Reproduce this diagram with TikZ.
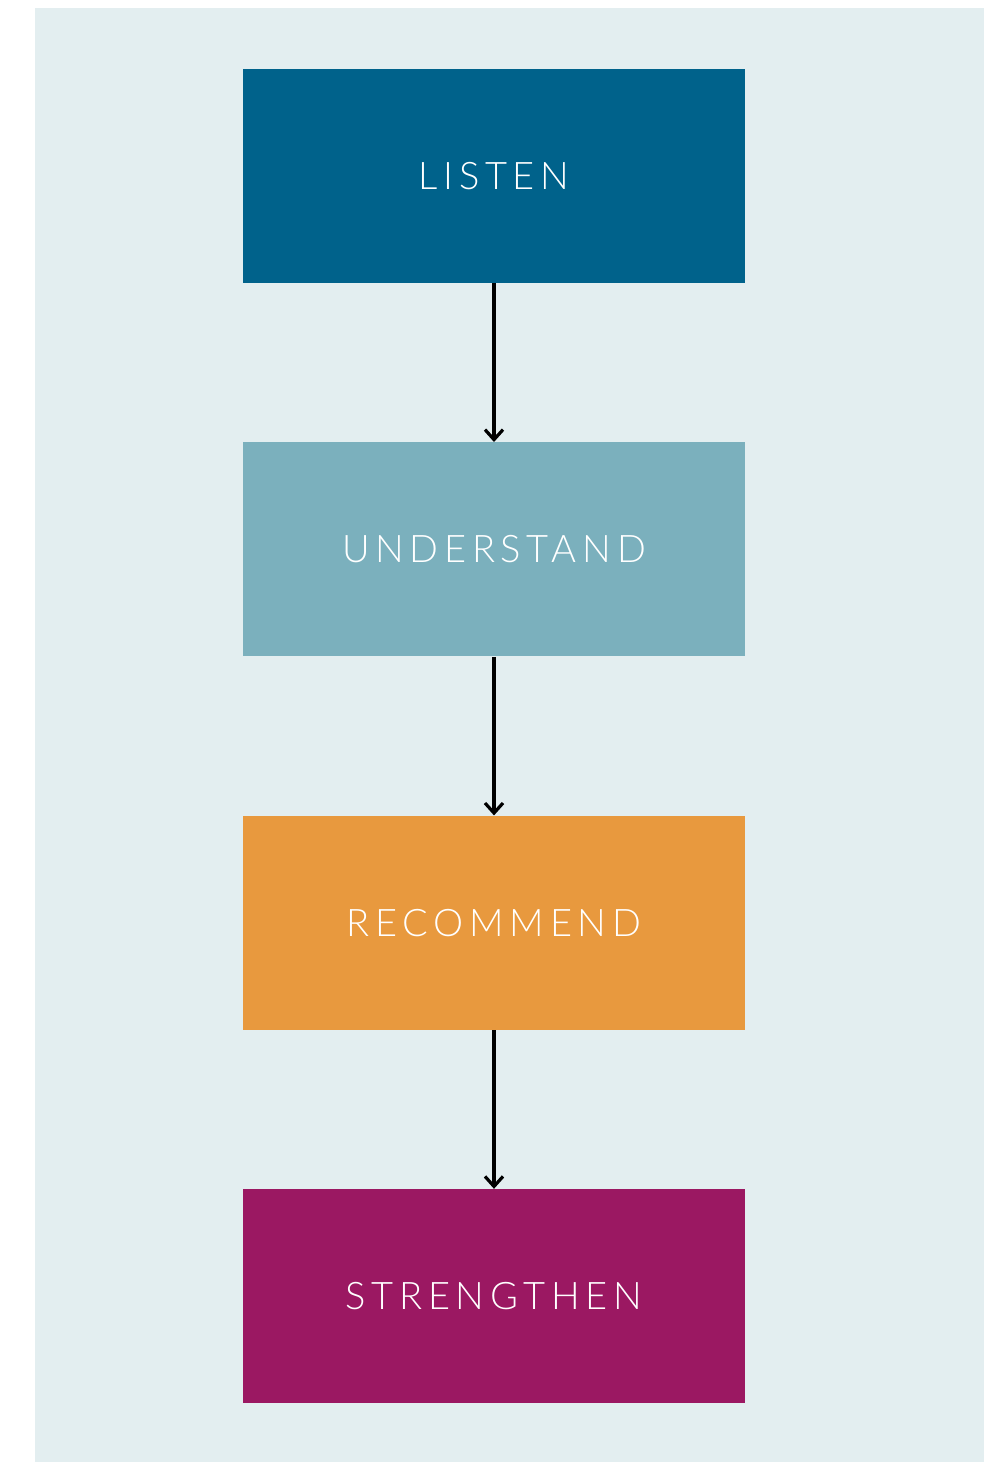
\documentclass[tikz,border=0pt]{standalone}
\usepackage{fontspec}
\newfontfamily\boxfont{Lato Light}[LetterSpace=15]
\usetikzlibrary{positioning, arrows.meta}
\definecolor{bgblue}{HTML}{E3EEF0}
\definecolor{listenblue}{HTML}{00628B}
\definecolor{understandblue}{HTML}{7BB0BD}
\definecolor{recommendorange}{HTML}{E8993E}
\definecolor{strengthenpurple}{HTML}{9B1862}
\tikzset{
    stagebox/.style={rectangle, minimum width=251pt, minimum height=107pt, inner sep=0pt, text=white, font=\boxfont\fontsize{19}{22}\selectfont},
    line/.style={draw, black, line width=1.7pt, -{Straight Barb[length=5pt, width=9pt, line width=1.6pt]}}
}
\begin{document}
\begin{tikzpicture}[x=0.5pt, y=-0.5pt, node distance=79.3pt]
            % Frame and background
            \useasboundingbox (0,0) rectangle (984,1462);
            \fill[bgblue] (35,8) rectangle (984,1462);

            % Draw nodes
            \node (listen) [stagebox, fill=listenblue] at (494,176) {LISTEN};
            \node (understand) [stagebox, fill=understandblue, below=of listen] {UNDERSTAND};
            \node (recommend) [stagebox, fill=recommendorange, below=of understand] {RECOMMEND};
            \node (strengthen) [stagebox, fill=strengthenpurple, below=of recommend] {STRENGTHEN};

            % Draw lines
            \path [line] (listen) -- (understand);
            \path [line] (understand) -- (recommend);
            \path [line] (recommend) -- (strengthen);
\end{tikzpicture}
\end{document}
